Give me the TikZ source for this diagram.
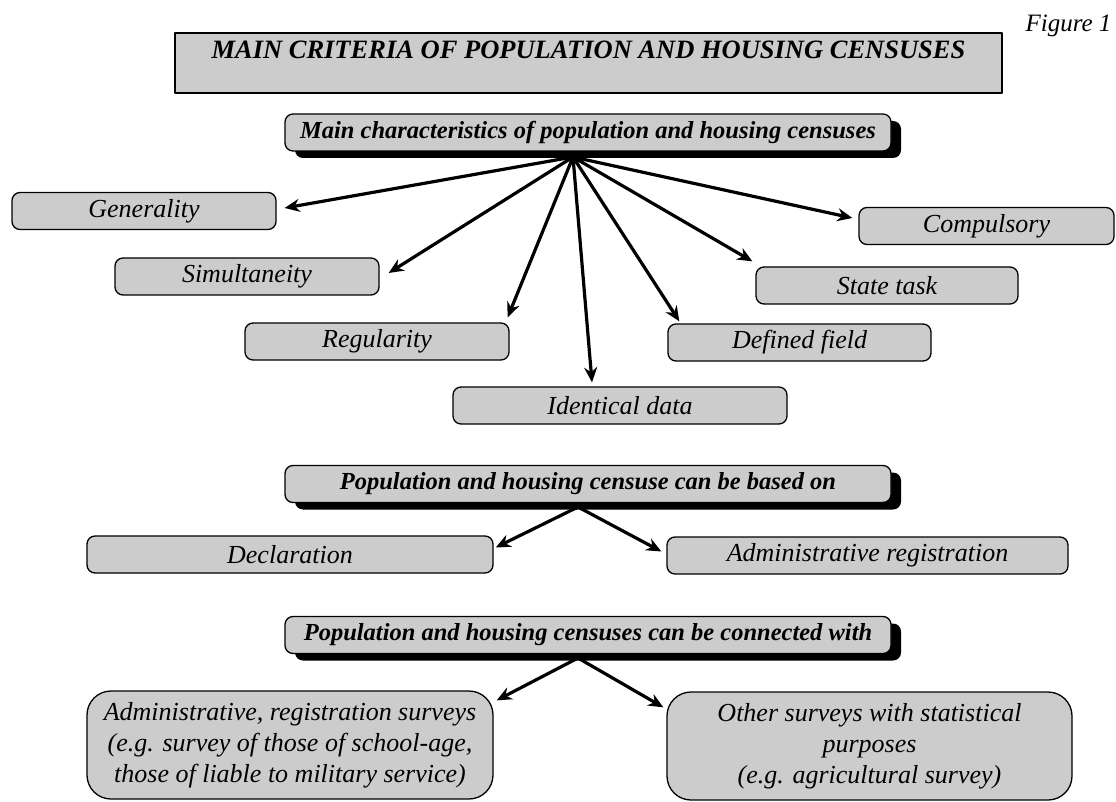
\documentclass[tikz,border=0pt]{standalone}
\usepackage{fontspec}
\setmainfont{Liberation Serif}
\usetikzlibrary{arrows.meta, calc, shadows}

\definecolor{boxgray}{HTML}{CCCCCC}

\begin{document}
\begin{tikzpicture}[x=1pt, y=-1pt, >={Stealth[length=15pt,width=13pt]}, line join=round,
    item/.style={draw, line width=1.3pt, fill=boxgray, rounded corners=8pt, inner sep=0pt,
      minimum height=37pt, font=\fontsize{26}{30}\selectfont\itshape},
    head/.style={item, minimum width=606pt, font=\fontsize{24.5}{28}\selectfont\bfseries\itshape,
      drop shadow={shadow xshift=10pt, shadow yshift=-7pt, fill=black, opacity=1}},
    big/.style={item, rounded corners=24pt, minimum width=406pt, minimum height=108pt,
      align=center, font=\fontsize{26}{31}\selectfont\itshape},
    link/.style={->, line width=3.2pt}]
    \useasboundingbox (0,0) rectangle (1116,802);

    % title
    \node[draw, line width=1.5pt, fill=boxgray, minimum width=827pt, inner xsep=0pt, inner ysep=6pt,
      text height=20pt, text depth=28pt, font=\fontsize{26.5}{30}\selectfont\bfseries\itshape]
      (title) at (588.5,63) {MAIN CRITERIA OF POPULATION AND HOUSING CENSUSES};
    \node[anchor=base west, font=\fontsize{25}{30}\selectfont\itshape] (fig) at (1022,32) {Figure 1};

    % main characteristics
    \node[head] (chars) at (588,132.5) {Main characteristics of population and housing censuses};
    \coordinate (hub1) at (573,157);

    \node[item, minimum width=264pt] (gen) at (144,211) {Generality};
    \node[item, minimum width=264pt] (sim) at (247,276.5) {Simultaneity};
    \node[item, minimum width=264pt] (reg) at (377,341.5) {Regularity};
    \node[item, minimum width=334pt] (ident) at (620,405.5) {Identical data};
    \node[item, minimum width=263pt] (def) at (799.5,342.5) {Defined field};
    \node[item, minimum width=262pt] (state) at (887,285.5) {State task};
    \node[item, minimum width=255pt] (comp) at (986.5,226) {Compulsory};

    \draw[link] (hub1) -- ([shift={(8,-3)}]gen.east);
    \draw[link] (hub1) -- ([shift={(9,-3.5)}]sim.east);
    \draw[link] (hub1) -- ([shift={(-2,-5)}]reg.north east);
    \draw[link] (hub1) -- ([shift={(-28,-4)}]ident.north);
    \draw[link] (hub1) -- ([shift={(12,-2)}]def.north west);
    \draw[link] (hub1) -- ([shift={(-3,-5)}]state.north west);
    \draw[link] (hub1) -- ([shift={(-6,-8)}]comp.west);

    % based on
    \node[head] (based) at (588,484) {Population and housing censuse can be based on};
    \coordinate (hub2) at (578,507);

    \node[item, minimum width=406pt] (decl) at (290,554.5) {Declaration};
    \node[item, minimum width=401pt] (admin) at (867.5,555.5) {Administrative registration};

    \draw[link] (hub2) -- ([shift={(2,-7)}]decl.east);
    \draw[link] (hub2) -- ([shift={(-5,-4)}]admin.west);

    % connected with
    \node[head] (conn) at (588,635) {Population and housing censuses can be connected with};
    \coordinate (hub3) at (578,658);

    \node[big] (regsurv) at (290,745) {Administrative, registration surveys\\(e.g. survey of those of school-age,\\those of liable to military service)};
    \node[big, minimum width=405pt] (statsurv) at (869.5,746) {Other surveys with statistical\\purposes\\(e.g. agricultural survey)};

    \draw[link] (hub3) -- ([shift={(3,10)}]regsurv.north east);
    \draw[link] (hub3) -- ([shift={(-3,16)}]statsurv.north west);
\end{tikzpicture}
\end{document}
